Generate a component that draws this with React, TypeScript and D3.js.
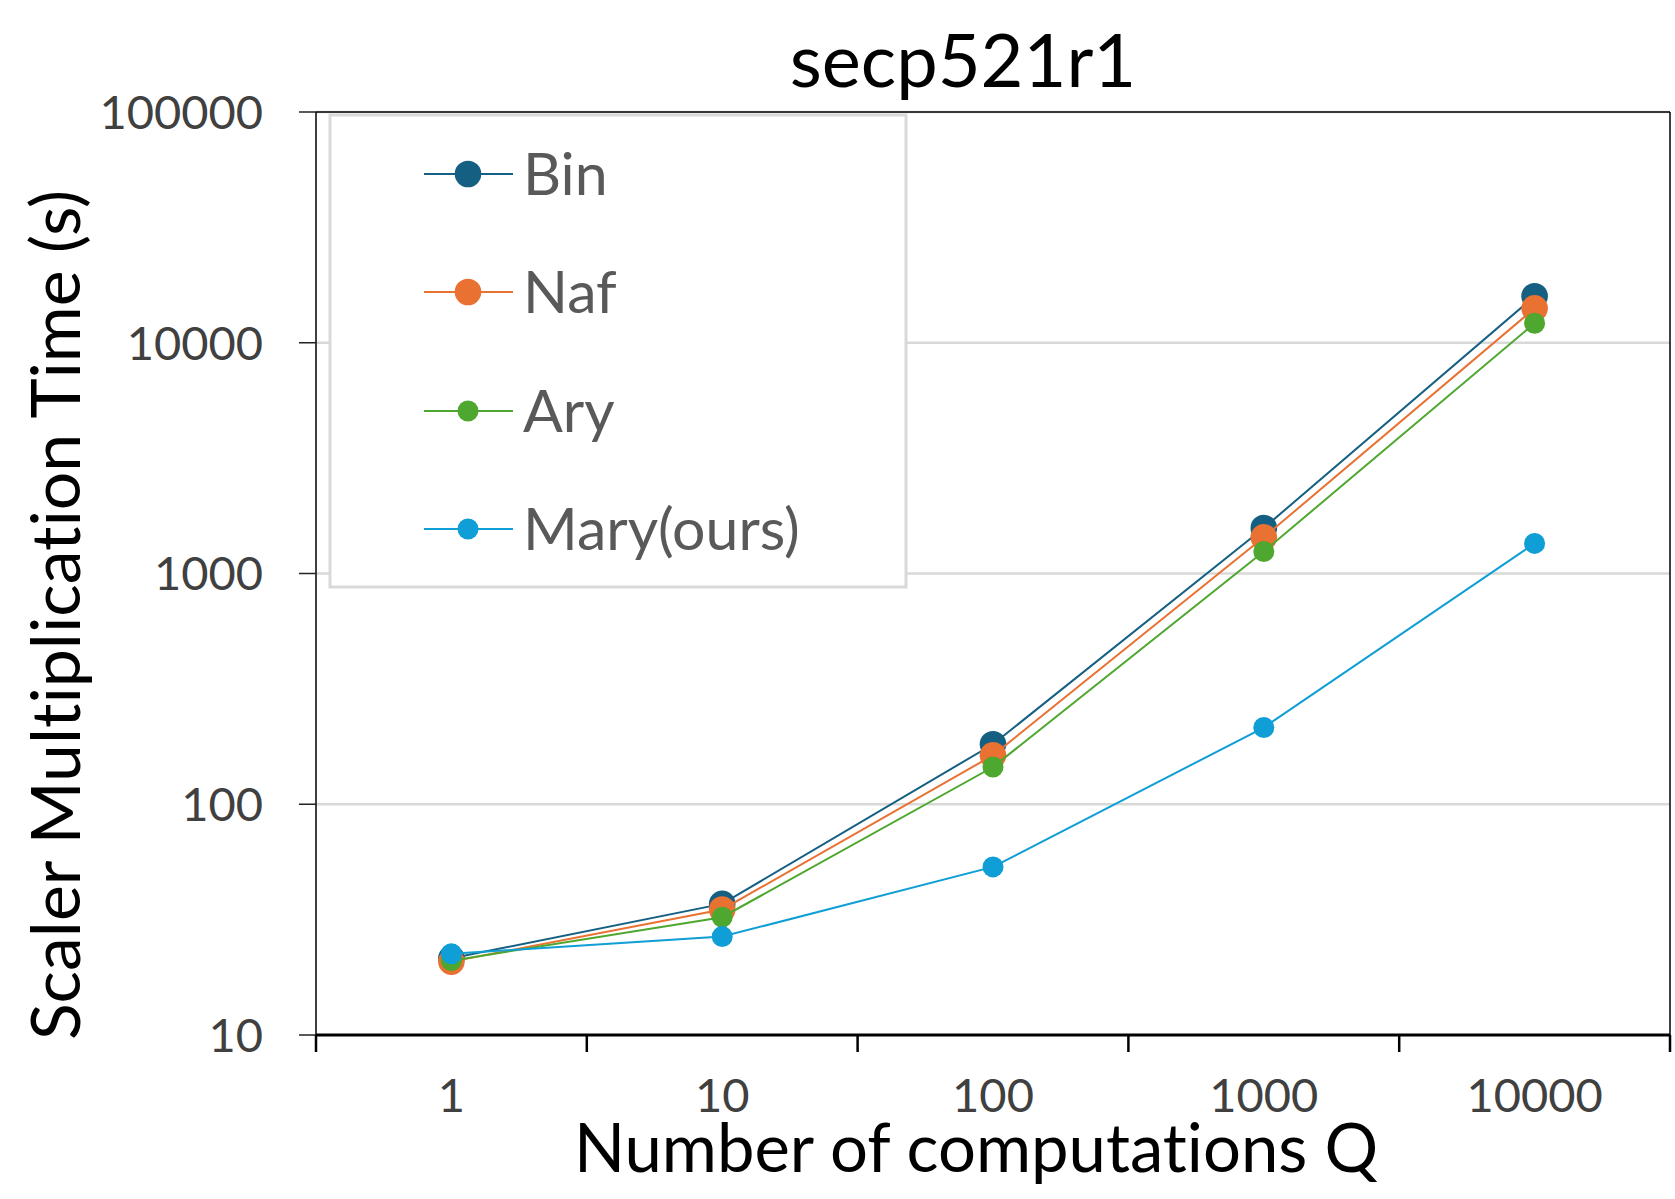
import { useMemo } from 'react'
import * as d3 from 'd3'

const W = 1675
const H = 1199

const categories = ['1', '10', '100', '1000', '10000']
const yTicks = [10, 100, 1000, 10000, 100000]

const binValues = [21.5, 37, 182, 1575, 15900]
const nafValues = [20.8, 35, 163, 1435, 14100]
const aryValues = [21.0, 32.4, 145, 1245, 12150]
const maryValues = [22.5, 26.7, 53.5, 215, 1350]

type Series = { name: string; values: number[]; color: string; r: number }

const series: Series[] = [
  { name: 'Bin', values: binValues, color: '#156082', r: 13.3 },
  { name: 'Naf', values: nafValues, color: '#e97132', r: 13.3 },
  { name: 'Ary', values: aryValues, color: '#4ea72e', r: 10.5 },
  { name: 'Mary(ours)', values: maryValues, color: '#0f9ed5', r: 10.5 },
]

const FONT = 'Lato, "Open Sans", sans-serif'

export default function App() {
  const left = 316
  const right = 1670
  const top = 112
  const bottom = 1035

  const x = useMemo(
    () => d3.scaleBand<string>().domain(categories).range([left, right]).padding(0),
    [],
  )
  const y = useMemo(() => d3.scaleLog().domain([10, 100000]).range([bottom, top]), [])

  const cx = (i: number) => (x(categories[i]) ?? 0) + x.bandwidth() / 2

  const line = d3
    .line<number>()
    .x((_, i) => cx(i))
    .y((v) => y(v))

  // band boundaries for x ticks
  const xTickPos = [...categories.map((c) => x(c) ?? 0), right]

  const legendRows = [174, 292, 411, 529]

  return (
    <svg
      width={W}
      height={H}
      style={{ position: 'absolute', left: 0, top: 0, background: '#fff', fontVariantLigatures: 'none' }}
      fontFamily={FONT}
    >
      <rect x={0} y={0} width={W} height={H} fill="#fff" />

      {/* gridlines */}
      {yTicks.slice(1).map((t) => (
        <line key={t} x1={left} x2={right} y1={y(t)} y2={y(t)} stroke="#d9d9d9" strokeWidth={2.5} />
      ))}

      {/* frame */}
      <line x1={left} x2={right} y1={top} y2={top} stroke="#000" strokeWidth={1.5} />
      <line x1={right} x2={right} y1={top} y2={bottom} stroke="#000" strokeWidth={1.5} />
      <line x1={left} x2={left} y1={top} y2={bottom} stroke="#000" strokeWidth={1.5} />

      {/* y ticks */}
      {yTicks.map((t) => (
        <g key={t}>
          <line x1={left - 17} x2={left} y1={y(t)} y2={y(t)} stroke="#222" strokeWidth={1.5} />
          <text x={263} y={y(t)} dy="0.36em" textAnchor="end" fontSize={47} fill="#404040">
            {t}
          </text>
        </g>
      ))}

      {/* x axis */}
      <line x1={left} x2={right} y1={bottom} y2={bottom} stroke="#000" strokeWidth={3} />
      {xTickPos.map((p, i) => (
        <line key={i} x1={p} x2={p} y1={bottom} y2={bottom + 17} stroke="#000" strokeWidth={2.5} />
      ))}
      {categories.map((c, i) => (
        <text key={c} x={cx(i)} y={1112} textAnchor="middle" fontSize={47} fill="#404040">
          {c}
        </text>
      ))}

      {/* series */}
      {series.map((s) => (
        <g key={s.name}>
          <path d={line(s.values) ?? ''} fill="none" stroke={s.color} strokeWidth={2} />
          {s.values.map((v, i) => (
            <circle key={i} cx={cx(i)} cy={y(v)} r={s.r} fill={s.color} />
          ))}
        </g>
      ))}

      {/* legend */}
      <rect x={330} y={115} width={576} height={472} fill="#fff" stroke="#d9d9d9" strokeWidth={3} />
      {series.map((s, i) => (
        <g key={s.name}>
          <line x1={424} x2={513} y1={legendRows[i]} y2={legendRows[i]} stroke={s.color} strokeWidth={2} />
          <circle cx={468} cy={legendRows[i]} r={s.r} fill={s.color} />
          <text x={523} y={legendRows[i]} dy="0.36em" fontSize={59} fill="#595959">
            {s.name}
          </text>
        </g>
      ))}

      {/* titles */}
      <text x={963} y={87} textAnchor="middle" fontSize={74} fill="#000">
        secp521r1
      </text>
      <text
        transform={`translate(80, 615) rotate(-90)`}
        textAnchor="middle"
        fontSize={68}
        fill="#000"
      >
        Scaler Multiplication Time (s)
      </text>
      <text x={976} y={1172} textAnchor="middle" fontSize={67} fill="#000">
        Number of computations Q
      </text>
    </svg>
  )
}
